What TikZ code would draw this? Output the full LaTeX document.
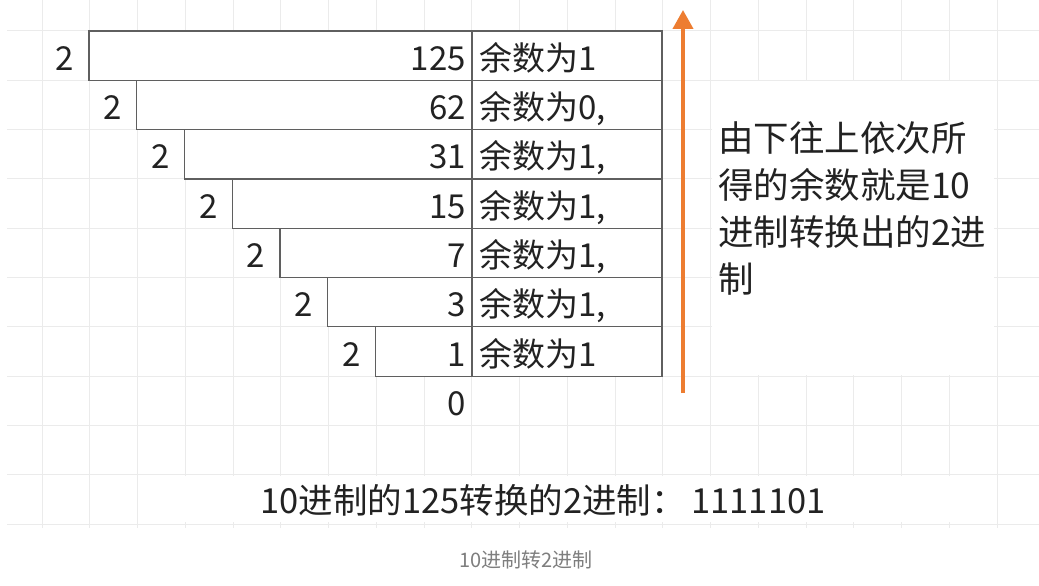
\documentclass[tikz,border=0pt]{standalone}
\usepackage{fontspec}
\setmainfont{Noto Sans CJK SC}
\usetikzlibrary{arrows.meta}
\definecolor{gridgray}{HTML}{EBEBEB}
\definecolor{rulegray}{HTML}{5F5F5F}
\definecolor{inkblack}{HTML}{222222}
\definecolor{arroworange}{HTML}{ED7D31}
\definecolor{captiongray}{HTML}{7E7E7E}

\begin{document}
\begin{tikzpicture}[x=1pt, y=-1pt,
    cell/.style={draw=rulegray, line width=1.2pt},
    numtext/.style={font=\fontsize{33}{33}\selectfont, text=inkblack, inner sep=0pt},
    notetext/.style={font=\fontsize{35.5}{47}\selectfont, text=inkblack, inner sep=0pt, align=left},
    upArrow/.style={arroworange, line width=4pt, -{Triangle[width=20pt,length=19pt]}}]
    \pgfmathsetmacro{\cw}{47.75} % grid column width
    \pgfmathsetmacro{\rh}{49.3}  % grid row height
    \pgfmathsetmacro{\xr}{472}   % left edge of remainder column
    \pgfmathsetmacro{\xe}{662}   % right edge of table
    % page and background grid
    \fill[white] (0,0) rectangle (1039,586);
    \path[use as bounding box] (0,0) rectangle (1039,586);
    \foreach \i in {0,...,20}
      \draw[gridgray, line width=1pt] ({42+\i*\cw},0) -- ({42+\i*\cw},528);
    \foreach \j in {0,...,10}
      \draw[gridgray, line width=1pt] (7,{31+\j*\rh}) -- (1039,{31+\j*\rh});
    % text boxes hide the grid
    \fill[white] (712,81) rectangle (994,375);
    \fill[white] (150,476) rectangle (992,522);
    % the division ladder
    \foreach \k/\quot/\rest in {0/125/1, 1/62/{0,}, 2/31/{1,}, 3/15/{1,}, 4/7/{1,}, 5/3/{1,}, 6/1/1} {
      \pgfmathsetmacro{\xl}{89+\k*\cw}
      \pgfmathsetmacro{\yt}{31+\k*\rh}
      \pgfmathsetmacro{\yb}{\yt+\rh}
      \filldraw[cell, fill=white] (\xl,\yt) rectangle (\xe,\yb);
      \draw[cell] (\xr,\yt) -- (\xr,\yb);
      \node[numtext, anchor=base] (div\k) at ({\xl-\cw/2},{\yb-10}) {2};
      \node[numtext, anchor=base east] (q\k) at (466,{\yb-10}) {\quot};
      \node[numtext, anchor=base west] (rem\k) at (479,{\yb-10}) {余数为\rest};
    }
    \node[numtext, anchor=base east] (q7) at (466,{31+8*\rh-10}) {0};
    % reading direction
    \coordinate (arrowfoot) at (683,393);
    \coordinate (arrowtip) at (683,10);
    \draw[upArrow] (arrowfoot) -- (arrowtip);
    \node[notetext, anchor=north west] (note) at (718,121)
      {由下往上依次所\\得的余数就是10\\进制转换出的2进\\制};
    % result and caption
    \node[font=\fontsize{34.5}{35}\selectfont, text=inkblack, inner sep=0pt, anchor=base]
      (result) at (543,513) {10进制的125转换的2进制：\,1111101};
    \node[font=\fontsize{20}{20}\selectfont, text=captiongray, inner sep=0pt, anchor=base]
      (caption) at (526,567) {10进制转2进制};
\end{tikzpicture}
\end{document}
